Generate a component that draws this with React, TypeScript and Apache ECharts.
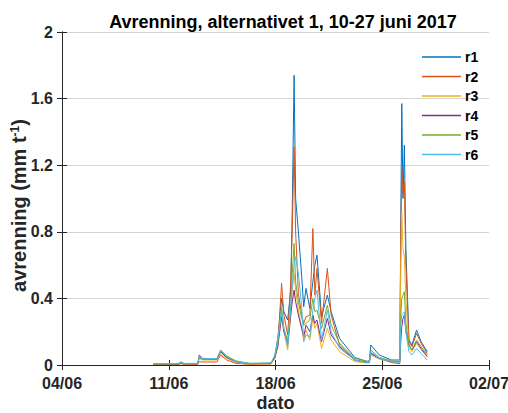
import React, { useEffect, useRef } from "react";
import * as echarts from "echarts";

// days since 04/06/2017
const times = [
  6.0, 7.6, 7.8, 8.0, 8.9, 9.0, 9.2, 10.15, 10.4, 10.8, 11.4, 12.3, 13.7, 13.95, 14.15, 14.4, 14.55, 14.8, 15.0, 15.1,
  15.22, 15.32, 15.5, 15.72, 15.85, 16.0, 16.25, 16.45, 16.58, 16.72, 17.02, 17.4, 17.65, 18.2, 19.2, 20.0, 20.15, 20.25,
  20.8, 21.6, 22.15, 22.22, 22.28, 22.36, 22.45, 22.55, 22.75, 22.95, 23.25, 23.55, 23.95,
];
const r1 = [
  0.005, 0.006, 0.012, 0.008, 0.008, 0.045, 0.035, 0.033, 0.085, 0.05, 0.02, 0.008, 0.01, 0.05, 0.16, 0.4, 0.32, 0.27, 0.45, 0.94,
  1.74, 1.0, 0.8, 0.53, 0.35, 0.46, 0.34, 0.5, 0.6, 0.66, 0.29, 0.42, 0.32, 0.16, 0.045, 0.022, 0.025, 0.12,
  0.06, 0.03, 0.03, 0.9, 1.57, 1.0, 1.32, 0.7, 0.15, 0.12, 0.21, 0.14, 0.08,
];
const r2 = [
  0.005, 0.004, 0.008, 0.005, 0.004, 0.02, 0.018, 0.018, 0.06, 0.03, 0.01, 0.004, 0.006, 0.04, 0.12, 0.49, 0.3, 0.18, 0.5, 0.82,
  1.31, 0.8, 0.43, 0.3, 0.25, 0.29, 0.3, 0.82, 0.42, 0.58, 0.25, 0.58, 0.3, 0.12, 0.03, 0.015, 0.015, 0.07,
  0.04, 0.015, 0.008, 0.8, 1.18, 1.03, 1.1, 0.6, 0.14, 0.11, 0.19, 0.13, 0.07,
];
const r3 = [
  0.005, 0.005, 0.01, 0.006, 0.006, 0.04, 0.03, 0.03, 0.07, 0.04, 0.015, 0.006, 0.008, 0.04, 0.12, 0.35, 0.2, 0.09, 0.3, 0.45,
  0.55, 0.45, 0.33, 0.22, 0.15, 0.21, 0.15, 0.28, 0.22, 0.25, 0.1, 0.22, 0.15, 0.08, 0.02, 0.012, 0.012, 0.06,
  0.035, 0.02, 0.02, 0.6, 0.92, 0.7, 0.65, 0.4, 0.1, 0.08, 0.13, 0.09, 0.05,
];
const r4 = [
  0.005, 0.005, 0.01, 0.007, 0.007, 0.06, 0.04, 0.035, 0.08, 0.045, 0.02, 0.008, 0.01, 0.045, 0.11, 0.29, 0.2, 0.13, 0.3, 0.38,
  0.45, 0.38, 0.3, 0.22, 0.17, 0.24, 0.2, 0.3, 0.25, 0.27, 0.14, 0.28, 0.18, 0.11, 0.03, 0.015, 0.015, 0.07,
  0.04, 0.02, 0.02, 0.15, 0.23, 0.28, 0.3, 0.2, 0.12, 0.09, 0.14, 0.1, 0.05,
];
const r5 = [
  0.005, 0.006, 0.012, 0.008, 0.008, 0.045, 0.035, 0.035, 0.09, 0.055, 0.025, 0.01, 0.012, 0.05, 0.13, 0.34, 0.22, 0.15, 0.35, 0.55,
  0.73, 0.5, 0.38, 0.28, 0.24, 0.25, 0.27, 0.4, 0.32, 0.33, 0.22, 0.36, 0.24, 0.13, 0.04, 0.02, 0.02, 0.09,
  0.045, 0.025, 0.02, 0.3, 0.4, 0.42, 0.44, 0.25, 0.12, 0.09, 0.15, 0.11, 0.06,
];
const r6 = [
  0.008, 0.008, 0.02, 0.01, 0.01, 0.05, 0.04, 0.038, 0.085, 0.05, 0.02, 0.01, 0.012, 0.06, 0.15, 0.33, 0.22, 0.11, 0.35, 0.48,
  0.6, 0.65, 0.55, 0.35, 0.14, 0.18, 0.17, 0.33, 0.4, 0.45, 0.15, 0.33, 0.2, 0.1, 0.03, 0.015, 0.015, 0.08,
  0.04, 0.02, 0.015, 0.25, 0.3, 0.31, 0.32, 0.2, 0.08, 0.06, 0.1, 0.07, 0.03,
];
const seriesNames = ["r1", "r2", "r3", "r4", "r5", "r6"];
const seriesValues = [r1, r2, r3, r4, r5, r6];
const colors = ["#0072BD", "#D95319", "#EDB120", "#7E2F8E", "#77AC30", "#4DBEEE"];
const xTickLabels = ["04/06", "11/06", "18/06", "25/06", "02/07"];
const yTickLabels = ["0", "0.4", "0.8", "1.2", "1.6", "2"];

const FONT = "'Liberation Sans', Arial, Helvetica, sans-serif";
const AXIS_COLOR = "#262626";

export default function App() {
  const ref = useRef<HTMLDivElement>(null);
  useEffect(() => {
    if (!ref.current) return;
    const chart = echarts.init(ref.current, null, { renderer: "svg" });
    const series = seriesNames.map((name, i) => ({
      name,
      type: "line",
      data: times.map((t, j) => [t, seriesValues[i][j]]),
      symbol: "none",
      showSymbol: false,
      lineStyle: { width: 1, color: colors[i] },
      itemStyle: { color: colors[i] },
      xAxisIndex: 0,
      yAxisIndex: 0,
    }));
    const hiddenAxisCommon = {
      axisLabel: { show: false },
      axisLine: { show: true, lineStyle: { color: AXIS_COLOR, width: 1 } },
      axisTick: { show: true, inside: true, length: 5, lineStyle: { color: AXIS_COLOR } },
      splitLine: { show: false },
    };
    chart.setOption({
      animation: false,
      backgroundColor: "#ffffff",
      color: colors,
      title: {
        text: "Avrenning, alternativet 1, 10-27 juni 2017",
        left: 278,
        textAlign: "center",
        top: 8,
        textStyle: { fontFamily: FONT, fontSize: 18, fontWeight: "bold", color: "#000" },
      },
      legend: {
        orient: "vertical",
        left: 417,
        top: 45,
        icon: "rect",
        itemWidth: 39,
        itemHeight: 1.5,
        itemGap: 5.5,
        data: seriesNames,
        textStyle: { fontFamily: FONT, fontSize: 14, fontWeight: "bold", color: "#000", padding: [0, 0, 0, -1] },
      },
      grid: { left: 62, right: 19, top: 32, bottom: 48, containLabel: false, outerBoundsMode: "none" },
      xAxis: [
        {
          type: "value",
          min: 0,
          max: 28,
          interval: 7,
          name: "dato",
          nameLocation: "middle",
          nameGap: 29,
          nameMoveOverlap: false,
          nameTextStyle: { fontFamily: FONT, fontSize: 18, fontWeight: "bold", color: "#262626", lineHeight: 18 },
          axisLine: { show: true, lineStyle: { color: AXIS_COLOR, width: 1 } },
          axisTick: { show: true, inside: true, length: 5, lineStyle: { color: AXIS_COLOR } },
          splitLine: { show: false },
          axisLabel: {
            fontFamily: FONT,
            fontSize: 16,
            fontWeight: "bold",
            color: "#262626",
            margin: 10,
            formatter: (v: number) => xTickLabels[Math.round(v / 7)] ?? "",
          },
        },
        { type: "value", position: "top", min: 0, max: 28, interval: 7, ...hiddenAxisCommon },
      ],
      yAxis: [
        {
          type: "value",
          min: 0,
          max: 2,
          interval: 0.4,
          name: "{m|avrenning (mm t}{s|-1}{m|)}",
          nameLocation: "middle",
          nameGap: 33,
          nameMoveOverlap: false,
          nameRotate: 90,
          nameTextStyle: {
            padding: [0, 14, 0, 0],
            rich: {
              m: { fontFamily: FONT, fontSize: 20, fontWeight: "bold", color: "#262626", lineHeight: 20 },
              s: { fontFamily: FONT, fontSize: 12, fontWeight: "bold", color: "#262626", verticalAlign: "top", lineHeight: 20 },
            },
          },
          axisLine: { show: true, lineStyle: { color: AXIS_COLOR, width: 1 } },
          axisTick: { show: true, inside: true, length: 5, lineStyle: { color: AXIS_COLOR } },
          splitLine: { show: true, lineStyle: { color: "#d4d4d4", width: 1.2 } },
          axisLabel: {
            fontFamily: FONT,
            fontSize: 16,
            fontWeight: "bold",
            color: "#262626",
            margin: 9,
            formatter: (v: number) => yTickLabels[Math.round(v / 0.4)] ?? "",
          },
        },
        { type: "value", position: "right", min: 0, max: 2, interval: 0.4, ...hiddenAxisCommon },
      ],
      series,
    });
    return () => chart.dispose();
  }, []);
  return <div ref={ref} style={{ position: "fixed", left: 0, top: 0, width: 508, height: 413 }} />;
}
